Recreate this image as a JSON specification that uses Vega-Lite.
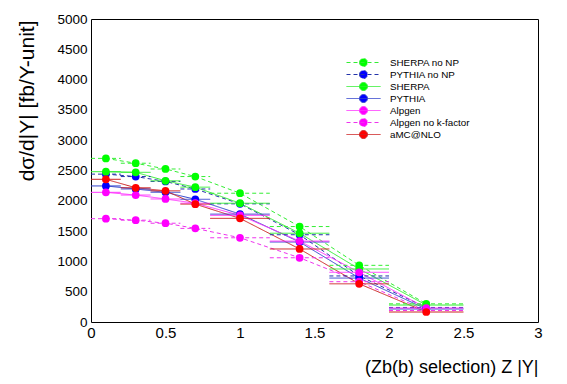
{
  "$schema": "https://vega.github.io/schema/vega-lite/v6.json",
  "width": 447,
  "height": 303,
  "autosize": {"type": "none"},
  "padding": {"left": 91, "top": 19, "right": 29, "bottom": 62},
  "background": "white",
  "config": {
    "view": {"stroke": "black", "strokeWidth": 1},
    "font": "Liberation Sans",
    "axis": {
      "domain": false, "grid": false, "tickColor": "black", "tickWidth": 1,
      "labelColor": "black", "titleColor": "black",
      "labelFont": "Liberation Sans", "titleFont": "Liberation Sans",
      "labelFontSize": 15, "titleFontSize": 18, "titleFontWeight": "normal",
      "tickSize": 0, "labelOverlap": false, "labelFlush": false
    }
  },
  "data": {"values": [
    {"series": "PYTHIA no NP", "x": 0.1, "xlo": 0.0, "xhi": 0.2, "y": 2440},
    {"series": "PYTHIA no NP", "x": 0.3, "xlo": 0.2, "xhi": 0.4, "y": 2400},
    {"series": "PYTHIA no NP", "x": 0.5, "xlo": 0.4, "xhi": 0.6, "y": 2320},
    {"series": "PYTHIA no NP", "x": 0.7, "xlo": 0.6, "xhi": 0.8, "y": 2195},
    {"series": "PYTHIA no NP", "x": 1.0, "xlo": 0.8, "xhi": 1.2, "y": 1950},
    {"series": "PYTHIA no NP", "x": 1.4, "xlo": 1.2, "xhi": 1.6, "y": 1440},
    {"series": "PYTHIA no NP", "x": 1.8, "xlo": 1.6, "xhi": 2.0, "y": 760},
    {"series": "PYTHIA no NP", "x": 2.25, "xlo": 2.0, "xhi": 2.5, "y": 240},
    {"series": "PYTHIA", "x": 0.1, "xlo": 0.0, "xhi": 0.2, "y": 2245},
    {"series": "PYTHIA", "x": 0.3, "xlo": 0.2, "xhi": 0.4, "y": 2195},
    {"series": "PYTHIA", "x": 0.5, "xlo": 0.4, "xhi": 0.6, "y": 2140},
    {"series": "PYTHIA", "x": 0.7, "xlo": 0.6, "xhi": 0.8, "y": 2025},
    {"series": "PYTHIA", "x": 1.0, "xlo": 0.8, "xhi": 1.2, "y": 1780},
    {"series": "PYTHIA", "x": 1.4, "xlo": 1.2, "xhi": 1.6, "y": 1320},
    {"series": "PYTHIA", "x": 1.8, "xlo": 1.6, "xhi": 2.0, "y": 725},
    {"series": "PYTHIA", "x": 2.25, "xlo": 2.0, "xhi": 2.5, "y": 215},
    {"series": "SHERPA no NP", "x": 0.1, "xlo": 0.0, "xhi": 0.2, "y": 2700},
    {"series": "SHERPA no NP", "x": 0.3, "xlo": 0.2, "xhi": 0.4, "y": 2620},
    {"series": "SHERPA no NP", "x": 0.5, "xlo": 0.4, "xhi": 0.6, "y": 2525},
    {"series": "SHERPA no NP", "x": 0.7, "xlo": 0.6, "xhi": 0.8, "y": 2400},
    {"series": "SHERPA no NP", "x": 1.0, "xlo": 0.8, "xhi": 1.2, "y": 2125},
    {"series": "SHERPA no NP", "x": 1.4, "xlo": 1.2, "xhi": 1.6, "y": 1575},
    {"series": "SHERPA no NP", "x": 1.8, "xlo": 1.6, "xhi": 2.0, "y": 935},
    {"series": "SHERPA no NP", "x": 2.25, "xlo": 2.0, "xhi": 2.5, "y": 300},
    {"series": "SHERPA", "x": 0.1, "xlo": 0.0, "xhi": 0.2, "y": 2480},
    {"series": "SHERPA", "x": 0.3, "xlo": 0.2, "xhi": 0.4, "y": 2470},
    {"series": "SHERPA", "x": 0.5, "xlo": 0.4, "xhi": 0.6, "y": 2330},
    {"series": "SHERPA", "x": 0.7, "xlo": 0.6, "xhi": 0.8, "y": 2225},
    {"series": "SHERPA", "x": 1.0, "xlo": 0.8, "xhi": 1.2, "y": 1960},
    {"series": "SHERPA", "x": 1.4, "xlo": 1.2, "xhi": 1.6, "y": 1465},
    {"series": "SHERPA", "x": 1.8, "xlo": 1.6, "xhi": 2.0, "y": 875},
    {"series": "SHERPA", "x": 2.25, "xlo": 2.0, "xhi": 2.5, "y": 280},
    {"series": "Alpgen no k-factor", "x": 0.1, "xlo": 0.0, "xhi": 0.2, "y": 1705},
    {"series": "Alpgen no k-factor", "x": 0.3, "xlo": 0.2, "xhi": 0.4, "y": 1680},
    {"series": "Alpgen no k-factor", "x": 0.5, "xlo": 0.4, "xhi": 0.6, "y": 1630},
    {"series": "Alpgen no k-factor", "x": 0.7, "xlo": 0.6, "xhi": 0.8, "y": 1545},
    {"series": "Alpgen no k-factor", "x": 1.0, "xlo": 0.8, "xhi": 1.2, "y": 1390},
    {"series": "Alpgen no k-factor", "x": 1.4, "xlo": 1.2, "xhi": 1.6, "y": 1060},
    {"series": "Alpgen no k-factor", "x": 1.8, "xlo": 1.6, "xhi": 2.0, "y": 665},
    {"series": "Alpgen no k-factor", "x": 2.25, "xlo": 2.0, "xhi": 2.5, "y": 190},
    {"series": "Alpgen", "x": 0.1, "xlo": 0.0, "xhi": 0.2, "y": 2140},
    {"series": "Alpgen", "x": 0.3, "xlo": 0.2, "xhi": 0.4, "y": 2095},
    {"series": "Alpgen", "x": 0.5, "xlo": 0.4, "xhi": 0.6, "y": 2030},
    {"series": "Alpgen", "x": 0.7, "xlo": 0.6, "xhi": 0.8, "y": 1960},
    {"series": "Alpgen", "x": 1.0, "xlo": 0.8, "xhi": 1.2, "y": 1760},
    {"series": "Alpgen", "x": 1.4, "xlo": 1.2, "xhi": 1.6, "y": 1335},
    {"series": "Alpgen", "x": 1.8, "xlo": 1.6, "xhi": 2.0, "y": 820},
    {"series": "Alpgen", "x": 2.25, "xlo": 2.0, "xhi": 2.5, "y": 230},
    {"series": "aMC@NLO", "x": 0.1, "xlo": 0.0, "xhi": 0.2, "y": 2355},
    {"series": "aMC@NLO", "x": 0.3, "xlo": 0.2, "xhi": 0.4, "y": 2215},
    {"series": "aMC@NLO", "x": 0.5, "xlo": 0.4, "xhi": 0.6, "y": 2165},
    {"series": "aMC@NLO", "x": 0.7, "xlo": 0.6, "xhi": 0.8, "y": 1945},
    {"series": "aMC@NLO", "x": 1.0, "xlo": 0.8, "xhi": 1.2, "y": 1710},
    {"series": "aMC@NLO", "x": 1.4, "xlo": 1.2, "xhi": 1.6, "y": 1205},
    {"series": "aMC@NLO", "x": 1.8, "xlo": 1.6, "xhi": 2.0, "y": 630},
    {"series": "aMC@NLO", "x": 2.25, "xlo": 2.0, "xhi": 2.5, "y": 165}
  ]},
  "layer": [
    {
      "mark": {"type": "line", "strokeWidth": 1},
      "encoding": {
        "x": {"field": "x", "type": "quantitative", "scale": {"domain": [0, 3], "nice": false, "zero": false},
          "axis": {"orient": "bottom",
            "values": [0,0.1,0.2,0.3,0.4,0.5,0.6,0.7,0.8,0.9,1,1.1,1.2,1.3,1.4,1.5,1.6,1.7,1.8,1.9,2,2.1,2.2,2.3,2.4,2.5,2.6,2.7,2.8,2.9,3],
            "labelExpr": "abs(datum.value*2-round(datum.value*2))<0.001 ? format(datum.value,'~g') : ''",
            "labelPadding": 3,
            "title": "(Zb(b) selection) Z |Y|",
            "titleAnchor": "end", "titleAlign": "right", "titleBaseline": "middle",
            "titleX": 447, "titleY": 45,
            "encode": {"ticks": {"update": {"y2": {"signal": "abs(datum.value*2-round(datum.value*2))<0.001 ? -9 : -5"}}}}
          }},
        "y": {"field": "y", "type": "quantitative", "scale": {"domain": [0, 5000], "nice": false},
          "axis": {"orient": "left",
            "values": [0,100,200,300,400,500,600,700,800,900,1000,1100,1200,1300,1400,1500,1600,1700,1800,1900,2000,2100,2200,2300,2400,2500,2600,2700,2800,2900,3000,3100,3200,3300,3400,3500,3600,3700,3800,3900,4000,4100,4200,4300,4400,4500,4600,4700,4800,4900,5000],
            "labelExpr": "datum.value % 500 === 0 ? format(datum.value,'d') : ''",
            "labelPadding": 4, "labelFontSize": 13.5,
            "title": "dσ/d|Y| [fb/Y-unit]", "titleFontSize": 21,
            "titleAngle": -90, "titleAlign": "right", "titleBaseline": "bottom",
            "titleX": -54, "titleY": 1,
            "encode": {"ticks": {"update": {"x2": {"signal": "datum.value % 500 === 0 ? 10 : 5"}}}}
          }},
        "stroke": {"field": "series", "type": "nominal",
          "scale": {"domain": ["SHERPA no NP","PYTHIA no NP","SHERPA","PYTHIA","Alpgen","Alpgen no k-factor","aMC@NLO"],
                    "range": ["#33ee33","#2233aa","#33ee33","#3344cc","#ff33ff","#ee33ee","#cc2222"]},
          "legend": {
            "title": null, "orient": "none", "legendX": 267, "legendY": 38,
            "padding": 0, "symbolSize": 100, "symbolStrokeWidth": 1,
            "symbolType": "M-3.4,0L3.4,0M-0.8,0A0.8,0.8,0,1,1,0.8,0A0.8,0.8,0,1,1,-0.8,0Z",
            "labelOffset": 21, "labelFontSize": 9.8, "labelFont": "Liberation Sans", "labelColor": "black",
            "labelLimit": 300, "rowPadding": -4,
            "encode": {"symbols": {"update": {
              "fill": {"scale": "fill", "field": "value"},
              "strokeDash": {"scale": "strokeDash", "field": "value"},
              "opacity": {"value": 1}
            }}}
          }},
        "strokeDash": {"field": "series", "type": "nominal",
          "scale": {"domain": ["SHERPA no NP","PYTHIA no NP","SHERPA","PYTHIA","Alpgen","Alpgen no k-factor","aMC@NLO"],
                    "range": [[4,3],[4,3],[1,0],[1,0],[1,0],[4,3],[1,0]]},
          "legend": null}
      }
    },
    {
      "mark": {"type": "rule", "strokeWidth": 1},
      "encoding": {
        "x": {"field": "xlo", "type": "quantitative", "axis": null},
        "x2": {"field": "xhi"},
        "y": {"field": "y", "type": "quantitative", "axis": null},
        "stroke": {"field": "series", "type": "nominal"},
        "strokeDash": {"field": "series", "type": "nominal", "legend": null}
      }
    },
    {
      "mark": {"type": "circle", "size": 60, "opacity": 1},
      "encoding": {
        "x": {"field": "x", "type": "quantitative",
          "axis": {"orient": "top", "labels": false, "title": null,
            "values": [0,0.1,0.2,0.3,0.4,0.5,0.6,0.7,0.8,0.9,1,1.1,1.2,1.3,1.4,1.5,1.6,1.7,1.8,1.9,2,2.1,2.2,2.3,2.4,2.5,2.6,2.7,2.8,2.9,3],
            "encode": {"ticks": {"update": {"y2": {"signal": "abs(datum.value*2-round(datum.value*2))<0.001 ? 9 : 5"}}}}
          }},
        "y": {"field": "y", "type": "quantitative",
          "axis": {"orient": "right", "labels": false, "title": null,
            "values": [0,100,200,300,400,500,600,700,800,900,1000,1100,1200,1300,1400,1500,1600,1700,1800,1900,2000,2100,2200,2300,2400,2500,2600,2700,2800,2900,3000,3100,3200,3300,3400,3500,3600,3700,3800,3900,4000,4100,4200,4300,4400,4500,4600,4700,4800,4900,5000],
            "encode": {"ticks": {"update": {"x2": {"signal": "datum.value % 500 === 0 ? -10 : -5"}}}}
          }},
        "fill": {"field": "series", "type": "nominal",
          "scale": {"domain": ["SHERPA no NP","PYTHIA no NP","SHERPA","PYTHIA","Alpgen","Alpgen no k-factor","aMC@NLO"],
                    "range": ["#00ff00","#0000ff","#00ff00","#0000ff","#ff00ff","#ff00ff","#ff0000"]},
          "legend": null}
      }
    }
  ],
  "resolve": {"axis": {"x": "independent", "y": "independent"}}
}
